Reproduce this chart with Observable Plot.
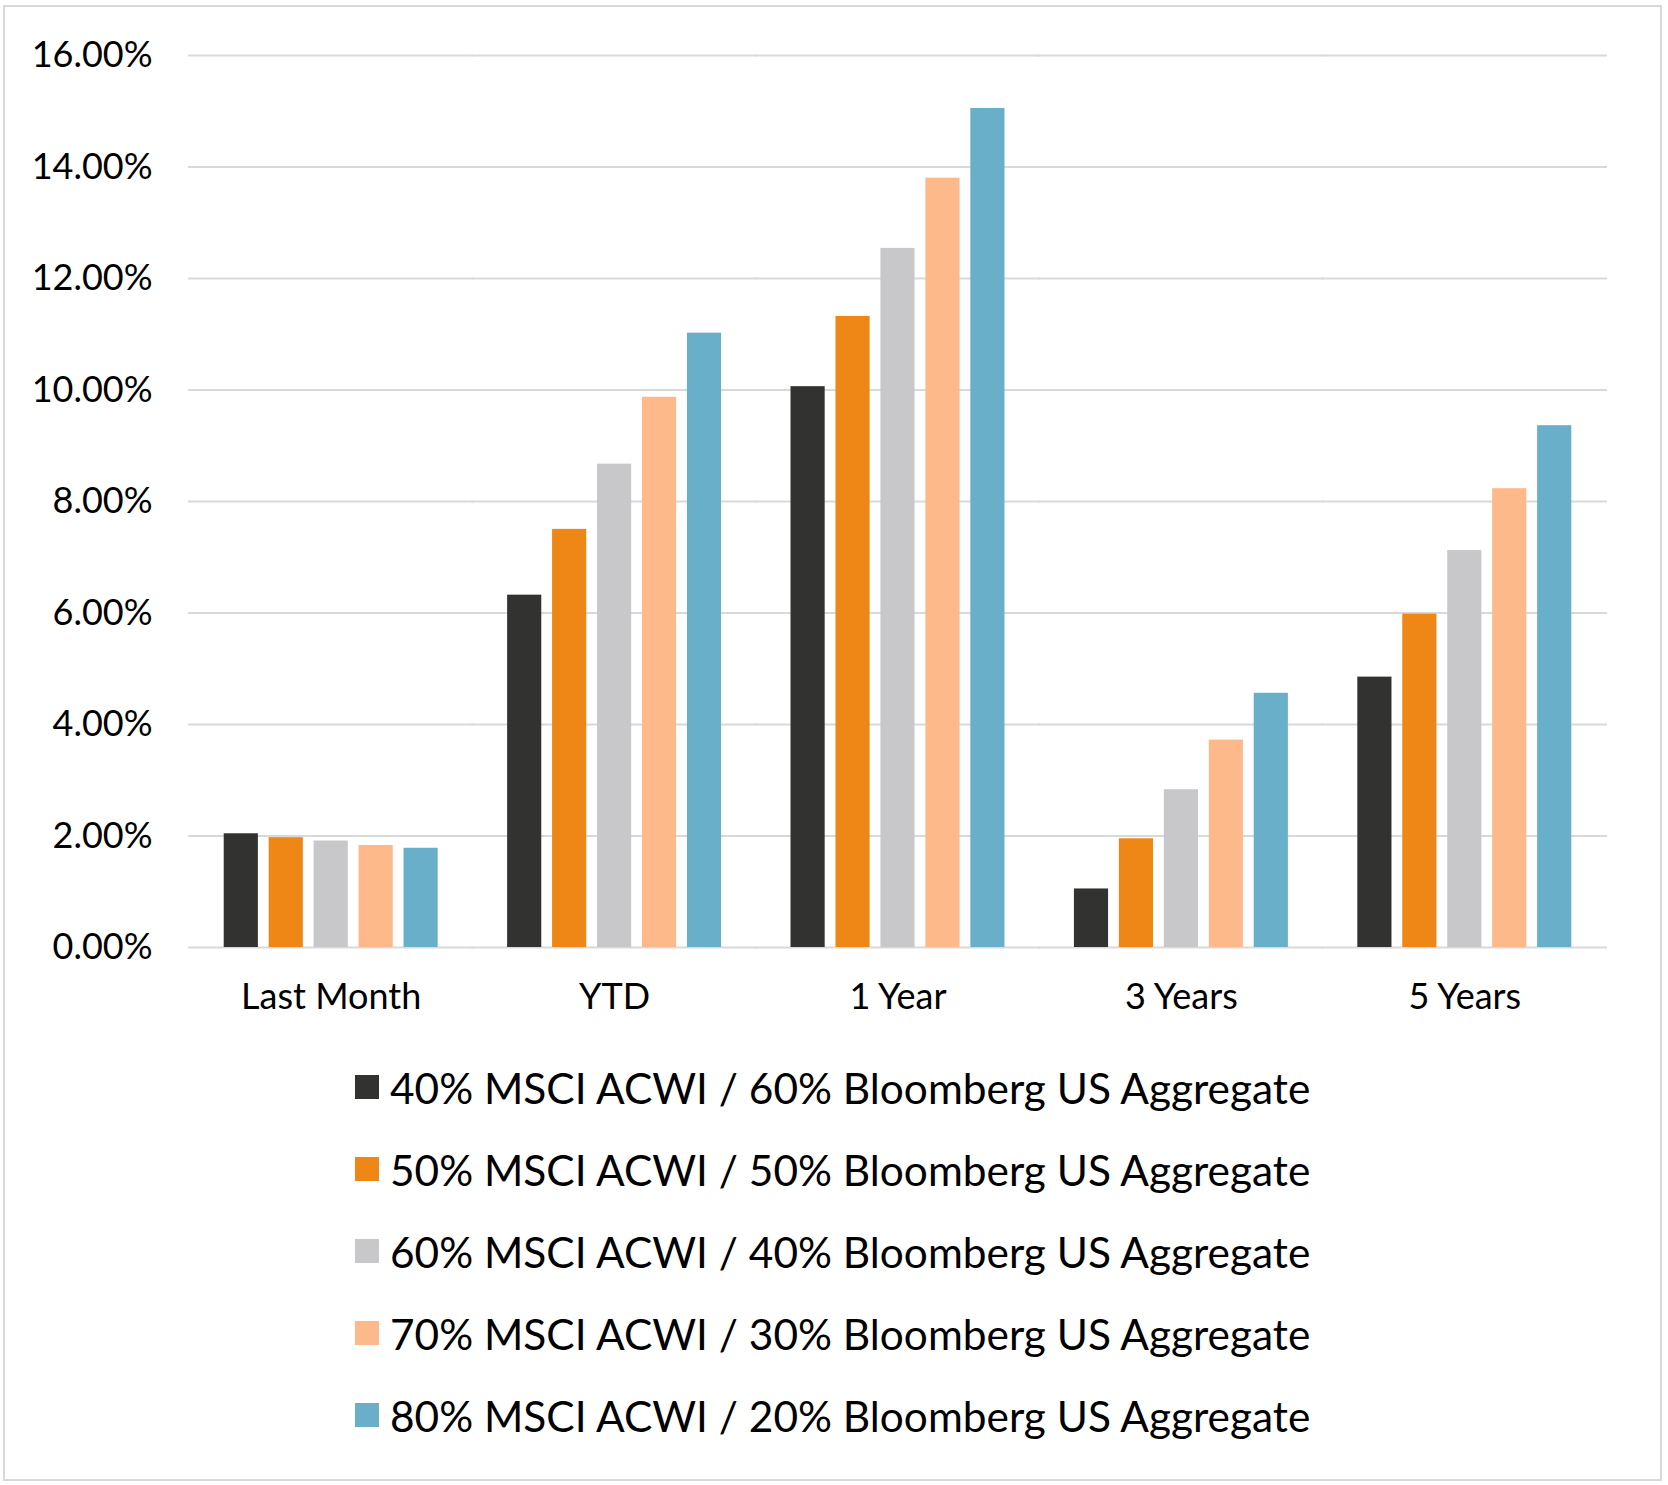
<!DOCTYPE html>
<html><head><meta charset="utf-8">
<script src="https://cdn.jsdelivr.net/npm/d3@7"></script>
<script src="https://cdn.jsdelivr.net/npm/@observablehq/plot@0.6"></script>
<style>
body{margin:0;background:#fff;font-family:Lato, "Open Sans", sans-serif;}
#frame{position:absolute;left:3px;top:5px;width:1655px;height:1472px;border:2px solid #d9d9d9;background:#fff;}
#legend{margin-top:19px;padding-left:350px;}
.row{display:flex;align-items:center;height:82px;font-size:42.4px;color:#000;white-space:nowrap;}
.sw{width:24px;height:24px;margin-right:11px;flex:none;}
</style></head><body>
<div id="frame"><div id="chart"></div><div id="legend"></div></div>
<script>
const categories = ["Last Month", "YTD", "1 Year", "3 Years", "5 Years"];
const seriesNames = [
  "40% MSCI ACWI / 60% Bloomberg US Aggregate",
  "50% MSCI ACWI / 50% Bloomberg US Aggregate",
  "60% MSCI ACWI / 40% Bloomberg US Aggregate",
  "70% MSCI ACWI / 30% Bloomberg US Aggregate",
  "80% MSCI ACWI / 20% Bloomberg US Aggregate"
];
const seriesColors = ["#323231", "#EE8716", "#C8C8CA", "#FEB98B", "#69AFC9"];
const s40 = [2.04, 6.32, 10.06, 1.05, 4.85];
const s50 = [1.97, 7.50, 11.32, 1.95, 5.98];
const s60 = [1.91, 8.67, 12.54, 2.83, 7.12];
const s70 = [1.83, 9.87, 13.80, 3.72, 8.23];
const s80 = [1.78, 11.02, 15.05, 4.56, 9.36];
const yTicks = [0, 2, 4, 6, 8, 10, 12, 14, 16];

const seriesValues = [s40, s50, s60, s70, s80];
const data = [];
seriesValues.forEach((vals, si) => {
  vals.forEach((v, ci) => data.push({category: categories[ci], series: seriesNames[si], value: v}));
});

const W = 1655, mL = 184, mR = 54;
const fxPad = 0.245;
const step = (W - mL - mR) / categories.length;
const halfGap = step * fxPad / 2 + 1;

const chart = Plot.plot({
  width: W,
  height: 1020,
  marginLeft: mL,
  marginRight: mR,
  marginTop: 48,
  marginBottom: 80,
  fx: {domain: categories, paddingInner: fxPad, paddingOuter: fxPad / 2, round: false, label: null, axis: "bottom", tickSize: 0, tickPadding: 36},
  x: {domain: seriesNames, paddingInner: 0.24, paddingOuter: 0, round: false, axis: null},
  y: {domain: [0, 16], ticks: yTicks, tickFormat: d => d.toFixed(2) + "%", tickSize: 0, tickPadding: 37 + halfGap - 1, label: null},
  color: {domain: seriesNames, range: seriesColors},
  style: {fontFamily: "Lato, 'Open Sans', sans-serif", fontSize: "36px", color: "#000", background: "transparent", overflow: "visible"},
  marks: [
    Plot.ruleY(yTicks, {stroke: "#d9d9d9", strokeWidth: 2, insetLeft: -halfGap, insetRight: -halfGap}),
    Plot.barY(data, {fx: "category", x: "series", y: "value", fill: "series"})
  ]
});
document.getElementById("chart").appendChild(chart);

const legend = d3.select("#legend");
seriesNames.forEach((name, i) => {
  const row = legend.append("div").attr("class", "row");
  row.append("div").attr("class", "sw").style("background", seriesColors[i]);
  row.append("span").text(name);
});
</script>
</body></html>
